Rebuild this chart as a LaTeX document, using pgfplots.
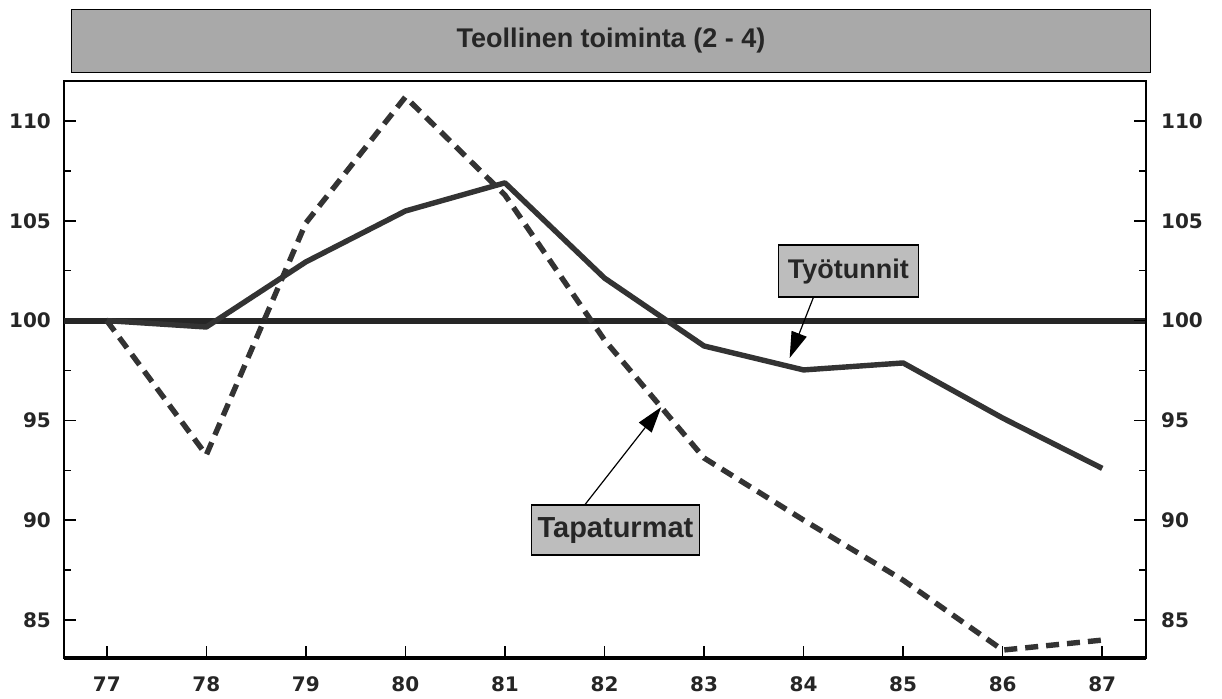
\documentclass[border=0pt]{standalone}
\usepackage{fontspec}
\setmainfont{Liberation Sans}
\newfontfamily\tickfont{DejaVu Sans}
\usepackage{pgfplots}
\pgfplotsset{compat=1.18}
\usetikzlibrary{arrows.meta}

\definecolor{lineC}{HTML}{333333}
\definecolor{boxC}{HTML}{A9A9A9}
\definecolor{labC}{HTML}{BDBDBD}

\begin{document}
\begin{tikzpicture}
\pgfplotsset{
  common/.style={
    width=541pt, height=288.5pt, scale only axis,
    xmin=76.57, xmax=87.44, ymin=83.1, ymax=112,
    ytick={85,90,...,110}, minor y tick num=1,
    tick align=inside, major tick length=6pt, minor tick length=3.5pt,
    tick style={line width=0.8pt, black},
    every tick label/.append style={font=\tickfont\bfseries\fontsize{10}{12}\selectfont, text=black!85},
    /pgf/number format/assume math mode=true,
    clip=false,
  },
}
\begin{axis}[common,
    xtick={77,...,87},
    xtick pos=bottom, ytick pos=left,
    xticklabel style={yshift=-6pt},
    yticklabel style={xshift=-3pt},
    axis line style={line width=0.8pt},
]
% bounding box = whole picture
\path (rel axis cs:-0.0591,-0.0693) rectangle (rel axis cs:1.0702,1.1404);
% title box
\node[draw=black, line width=0.8pt, fill=boxC, minimum width=539.5pt, minimum height=31.5pt,
      anchor=south, font=\bfseries\fontsize{13.5}{15}\selectfont, text=black!85]
  at ([xshift=3pt,yshift=3.9pt]rel axis cs:0.5,1) {Teollinen toiminta (2 - 4)};
% thicker bottom axis line
\draw[line width=1.6pt, black] (rel axis cs:0,0) -- (rel axis cs:1,0);

% reference line 100
\addplot[black!85, line width=3pt] coordinates {(76.57,100) (87.44,100)};

% Työtunnit
\addplot[lineC, line width=2.7pt, line join=round] coordinates {
  (77,100.0) (78,99.68) (79,102.94) (80,105.49) (81,106.9) (82,102.13)
  (83,98.73) (84,97.53) (85,97.88) (86,95.12) (87,92.6)
};
% Tapaturmat
\addplot[lineC, line width=2.7pt, dash pattern=on 6.5pt off 4pt] coordinates {
  (77,100.0) (78,93.27) (79,104.89) (80,111.2) (81,106.29) (82,99.03)
  (83,93.12) (84,90.01) (85,87.0) (86,83.5) (87,84.0)
};

% labels with arrows
\draw[black, line width=0.6pt, -{Triangle[length=13pt,width=8pt]}]
  (axis cs:84.10,101.18) -- (axis cs:83.86,98.13);
\node[draw=black, line width=0.6pt, fill=labC, minimum width=70pt, minimum height=26pt,
      inner sep=2pt, font=\bfseries\fontsize{13.5}{15}\selectfont, text=black!85]
  at (axis cs:84.45,102.48) {Työtunnit};
\draw[black, line width=0.6pt, -{Triangle[length=13pt,width=8pt]}]
  (axis cs:81.80,90.76) -- (axis cs:82.57,95.67);
\node[draw=black, line width=0.6pt, fill=labC, minimum width=84pt, minimum height=25pt,
      inner sep=2pt, font=\bfseries\fontsize{14.5}{16}\selectfont, text=black!85]
  at (axis cs:82.11,89.51) {Tapaturmat};
\end{axis}
\begin{axis}[common,
    axis x line=none, axis y line*=right,
    yticklabel pos=right,
    yticklabel style={xshift=4pt},
    axis line style={line width=0.8pt},
]
\end{axis}
\end{tikzpicture}
\end{document}
